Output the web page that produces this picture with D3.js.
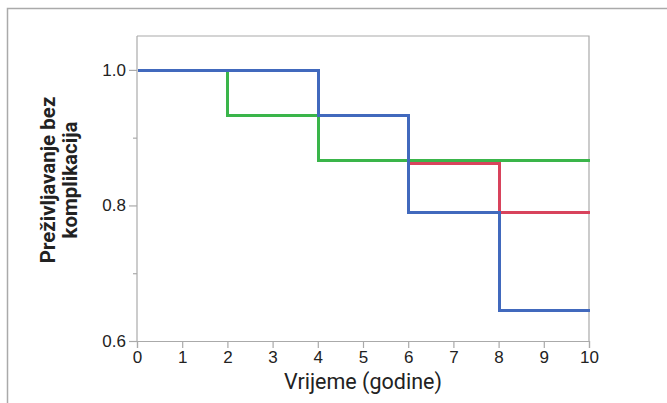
<!DOCTYPE html>
<html>
<head>
<meta charset="utf-8">
<script src="https://cdn.jsdelivr.net/npm/d3@7"></script>
<style>
  html, body { margin: 0; padding: 0; background: #fff; }
  svg { display: block; }
  .tick text { font-family: "Liberation Sans", Arial, sans-serif; font-size: 17px; fill: #222; }
</style>
</head>
<body>
<svg id="chart" width="667" height="403"></svg>
<script>
// Kaplan-Meier steps: time at which each level starts
const greenTimes = [0, 2, 4];
const greenValues = [1.0, 0.933, 0.867];
const redTimes = [0, 4, 6, 8];
const redValues = [1.0, 0.933, 0.862, 0.790];
const blueTimes = [0, 4, 6, 8];
const blueValues = [1.0, 0.933, 0.790, 0.646];

const xTicks = [0, 1, 2, 3, 4, 5, 6, 7, 8, 9, 10];
const yMajorTicks = [0.6, 0.8, 1.0];
const yMinorTicks = [0.7, 0.9];

const series = [
  { name: "red", times: redTimes, values: redValues, color: "#d8435c" },
  { name: "green", times: greenTimes, values: greenValues, color: "#3ab54a" },
  { name: "blue", times: blueTimes, values: blueValues, color: "#4169bd" }
];

const svg = d3.select("#chart");
const margin = { left: 137, right: 78, top: 36, bottom: 62 };
const width = 667, height = 403;

const x = d3.scaleLinear().domain([0, 10]).range([margin.left, width - margin.right]);
const y = d3.scaleLinear().domain([0.6, 1.05]).range([height - margin.bottom, margin.top]);

// outer frame (top and left only)
svg.append("path")
    .attr("d", `M7.5,403 V8.5 H667`)
    .attr("fill", "none")
    .attr("stroke", "#aaa")
    .attr("stroke-width", 1.5);

// plot box top and right
svg.append("path")
    .attr("d", `M${x(0)},${y(1.05)} H${x(10)} V${y(0.6)}`)
    .attr("fill", "none")
    .attr("stroke", "#aaa")
    .attr("stroke-width", 1.2);

// axes
const xAxis = svg.append("g")
    .attr("transform", `translate(0,${y(0.6)})`)
    .call(d3.axisBottom(x).tickValues(xTicks).tickFormat(d3.format("d")).tickSizeOuter(0).tickSize(7).tickPadding(3));

const yAxis = svg.append("g")
    .attr("transform", `translate(${x(0)},0)`)
    .call(d3.axisLeft(y).tickValues(yMajorTicks).tickFormat(d3.format(".1f")).tickSizeOuter(0).tickSize(8).tickPadding(3));

svg.append("g")
    .attr("transform", `translate(${x(0)},0)`)
    .call(d3.axisLeft(y).tickValues(yMinorTicks).tickFormat("").tickSizeOuter(0).tickSize(4))
    .select(".domain").remove();

svg.selectAll(".domain").attr("stroke", "#aaa").attr("stroke-width", 1.2);
svg.selectAll(".tick line").attr("stroke", "#aaa").attr("stroke-width", 1.2);

// y domain line should span the full plot height
yAxis.select(".domain").attr("d", `M0,${y(0.6)} V${y(1.05)}`);

// step lines (red sits underneath, hidden where it overlaps blue)
const line = d3.line()
    .x(d => Math.round(x(d[0])) + 0.5)
    .y(d => Math.round(y(d[1])) + 0.5)
    .curve(d3.curveStepAfter);

series.forEach(s => {
  const pts = s.times.map((t, i) => [t, s.values[i]]);
  pts.push([10, s.values[s.values.length - 1]]);
  svg.append("path")
      .datum(pts)
      .attr("d", line)
      .attr("fill", "none")
      .attr("stroke", s.color)
      .attr("stroke-width", 3)
      .attr("shape-rendering", "crispEdges");
});

// titles
svg.append("text")
    .attr("x", (x(0) + x(10)) / 2)
    .attr("y", 389)
    .attr("text-anchor", "middle")
    .style("font-family", "Roboto, sans-serif")
    .style("font-size", "21.5px")
    .style("fill", "#222")
    .text("Vrijeme (godine)");

const yTitle = svg.append("text")
    .attr("transform", `translate(0,180) rotate(-90)`)
    .attr("text-anchor", "middle")
    .style("font-family", "Roboto, sans-serif")
    .style("font-size", "20.5px")
    .style("font-weight", "bold")
    .style("fill", "#222");
yTitle.append("tspan").attr("x", 0).attr("y", 55).text("Preživljavanje bez");
yTitle.append("tspan").attr("x", 0).attr("y", 77).text("komplikacija");
</script>
</body>
</html>
